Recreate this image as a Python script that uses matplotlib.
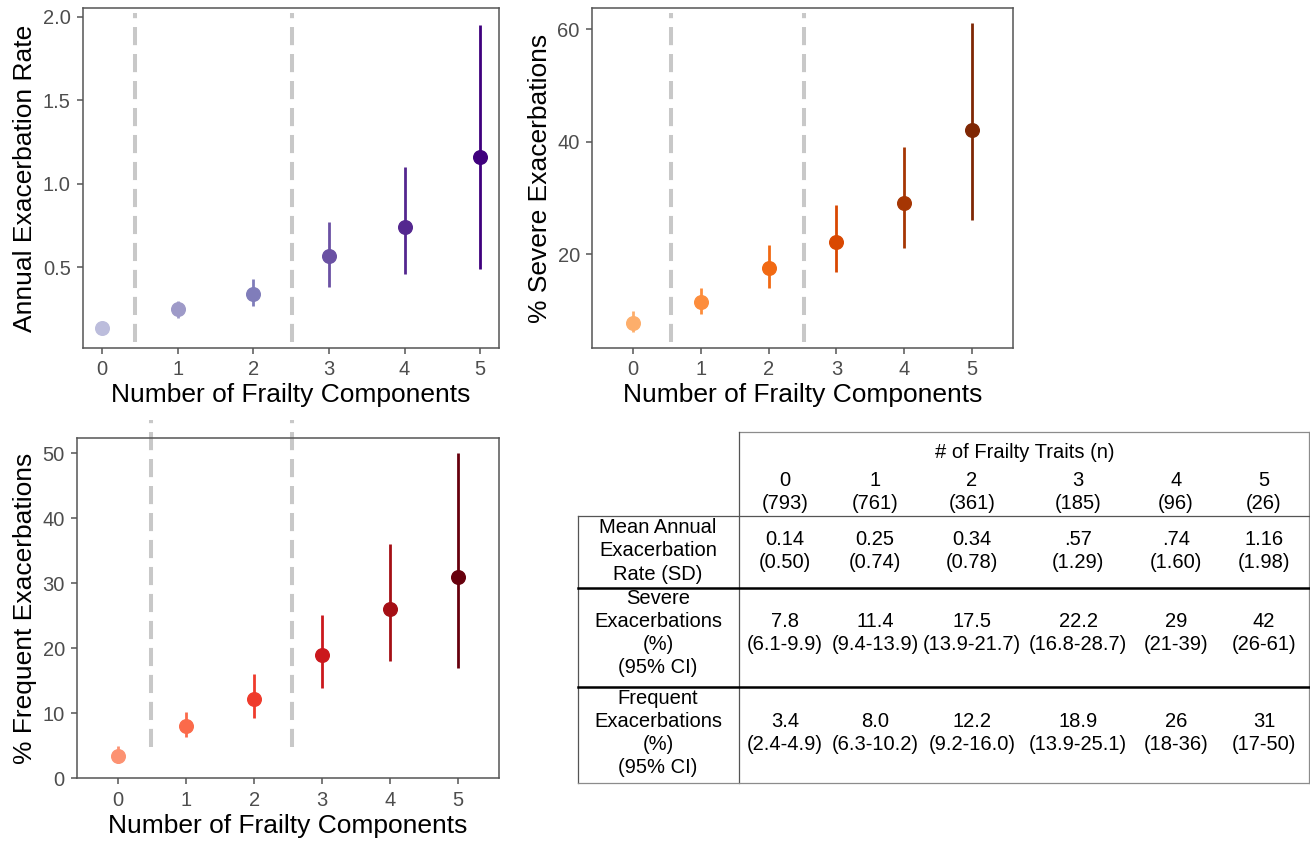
import matplotlib
matplotlib.use("Agg")
import matplotlib.pyplot as plt

plt.rcParams['font.family'] = ['Liberation Sans', 'DejaVu Sans']

# number of frailty components
comps = [0, 1, 2, 3, 4, 5]
n_counts = [793, 761, 361, 185, 96, 26]

# annual exacerbation rate (mean, interval)
rate = [0.14, 0.25, 0.34, 0.57, 0.74, 1.16]
rate_lo = [0.12, 0.20, 0.27, 0.38, 0.46, 0.49]
rate_hi = [0.16, 0.30, 0.43, 0.77, 1.10, 1.95]
rate_sd = [0.50, 0.74, 0.78, 1.29, 1.60, 1.98]
rate_txt = ['0.14', '0.25', '0.34', '.57', '.74', '1.16']

# % severe exacerbations with 95% CI
severe = [7.8, 11.4, 17.5, 22.2, 29, 42]
severe_lo = [6.1, 9.4, 13.9, 16.8, 21, 26]
severe_hi = [9.9, 13.9, 21.7, 28.7, 39, 61]

# % frequent exacerbations with 95% CI
frequent = [3.4, 8.0, 12.2, 18.9, 26, 31]
frequent_lo = [2.4, 6.3, 9.2, 13.9, 18, 17]
frequent_hi = [4.9, 10.2, 16.0, 25.1, 36, 50]

purples = ['#bcbddc', '#9e9ac8', '#807dba', '#6a51a3', '#54278f', '#3f007d']
oranges = ['#fdae6b', '#fd8d3c', '#f16913', '#d94801', '#a63603', '#7f2704']
reds = ['#fc9272', '#fb6a4a', '#ef3b2c', '#cb181d', '#a50f15', '#67000d']

fig = plt.figure(figsize=(13.1, 8.41), dpi=100)


def panel(rect, y, lo, hi, cols, ylabel, xlim, ylim, yticks, ytl, vlines, vspan):
    ax = fig.add_axes(rect)
    for x, v, l, h, c in zip(comps, y, lo, hi, cols):
        ax.plot([x, x], [l, h], color=c, lw=2.0, solid_capstyle='butt', zorder=3)
        ax.plot(x, v, 'o', color=c, ms=9.8, mec=c, zorder=4)
    for xv in vlines:
        ax.axvline(xv, ymin=vspan[0], ymax=vspan[1], color='#c8c8c8', lw=2.9,
                   dashes=(4.5, 2.2), clip_on=False, zorder=2)
    ax.set_xlim(*xlim)
    ax.set_ylim(*ylim)
    ax.set_xticks(comps)
    ax.set_yticks(yticks)
    ax.set_yticklabels(ytl)
    for s in ax.spines.values():
        s.set_color('#555555')
        s.set_linewidth(1.1)
    ax.tick_params(colors='#555555', labelcolor='#4d4d4d', labelsize=14.5,
                   length=4, width=1.1, pad=5)
    ax.set_xlabel('Number of Frailty Components', fontsize=19, labelpad=3)
    ax.set_ylabel(ylabel, fontsize=19, labelpad=4)
    return ax


panel([0.0636, 0.5866, 0.3173, 0.4036], rate, rate_lo, rate_hi, purples,
      'Annual Exacerbation Rate', (-0.25, 5.25), (0.02, 2.05),
      [0.5, 1.0, 1.5, 2.0], ['0.5', '1.0', '1.5', '2.0'], [0.43, 2.51], (0.018, 0.987))

panel([0.4521, 0.5866, 0.3209, 0.4036], severe, severe_lo, severe_hi, oranges,
      '% Severe Exacerbations', (-0.6, 5.6), (3.36, 63.7),
      [20, 40, 60], ['20', '40', '60'], [0.56, 2.52], (0.018, 0.985))

panel([0.0590, 0.0746, 0.3219, 0.4043], frequent, frequent_lo, frequent_hi, reds,
      '% Frequent Exacerbations', (-0.6, 5.6), (0.0, 52.3),
      [0, 10, 20, 30, 40, 50], ['0', '10', '20', '30', '40', '50'], [0.49, 2.56], (0.091, 1.054))

# ---- table (drawn in pixel coordinates of the figure) ----
W, H = 1310, 841
tax = fig.add_axes([0, 0, 1, 1])
tax.set_xlim(0, W)
tax.set_ylim(H, 0)
tax.axis('off')

x_left, x_sep, x_right = 578, 739, 1309
y_top, y_head, y_r1, y_r2, y_bot = 432, 516, 588, 687, 783
gray = '#8c8c8c'
tax.plot([x_sep, x_right], [y_top, y_top], color=gray, lw=0.9)
tax.plot([x_sep, x_sep], [y_top, y_bot], color='#555555', lw=0.9)
tax.plot([x_right, x_right], [y_top, y_bot], color=gray, lw=0.9)
tax.plot([x_left, x_left], [y_head, y_bot], color='#555555', lw=0.9)
tax.plot([x_left, x_right], [y_head, y_head], color='#555555', lw=0.9)
tax.plot([x_left, x_right], [y_r1, y_r1], color='black', lw=1.8)
tax.plot([x_left, x_right], [y_r2, y_r2], color='black', lw=1.8)
tax.plot([x_left, x_right], [y_bot, y_bot], color=gray, lw=0.9)

fs = 14.5
ls = 1.27
col_x = [785, 875, 972, 1078, 1176, 1264]
tax.text(1025, 452, '# of Frailty Traits (n)', fontsize=fs, ha='center', va='center')
for cx, c, n in zip(col_x, comps, n_counts):
    tax.text(cx, 492, f'{c}\n({n})', fontsize=fs, ha='center', va='center', linespacing=ls)
    i = comps.index(c)
    tax.text(cx, 551, f'{rate_txt[i]}\n({rate_sd[i]:.2f})', fontsize=fs,
             ha='center', va='center', linespacing=ls)
    sv = f'{severe[i]:g}' if i >= 4 else f'{severe[i]:.1f}'
    tax.text(cx, 633, f'{sv}\n({severe_lo[i]:g}-{severe_hi[i]:g})', fontsize=fs,
             ha='center', va='center', linespacing=ls)
    fq = f'{frequent[i]:g}' if i >= 4 else f'{frequent[i]:.1f}'
    if i < 4:
        ci = f'({frequent_lo[i]:.1f}-{frequent_hi[i]:.1f})'
    else:
        ci = f'({frequent_lo[i]:g}-{frequent_hi[i]:g})'
    tax.text(cx, 733, f'{fq}\n{ci}', fontsize=fs, ha='center', va='center', linespacing=ls)

lab_x = 658
tax.text(lab_x, 551, 'Mean Annual\nExacerbation\nRate (SD)', fontsize=fs,
         ha='center', va='center', linespacing=ls)
tax.text(lab_x, 633, 'Severe\nExacerbations\n(%)\n(95% CI)', fontsize=fs,
         ha='center', va='center', linespacing=ls)
tax.text(lab_x, 733, 'Frequent\nExacerbations\n(%)\n(95% CI)', fontsize=fs,
         ha='center', va='center', linespacing=ls)

fig.savefig('out.png', dpi=100)
